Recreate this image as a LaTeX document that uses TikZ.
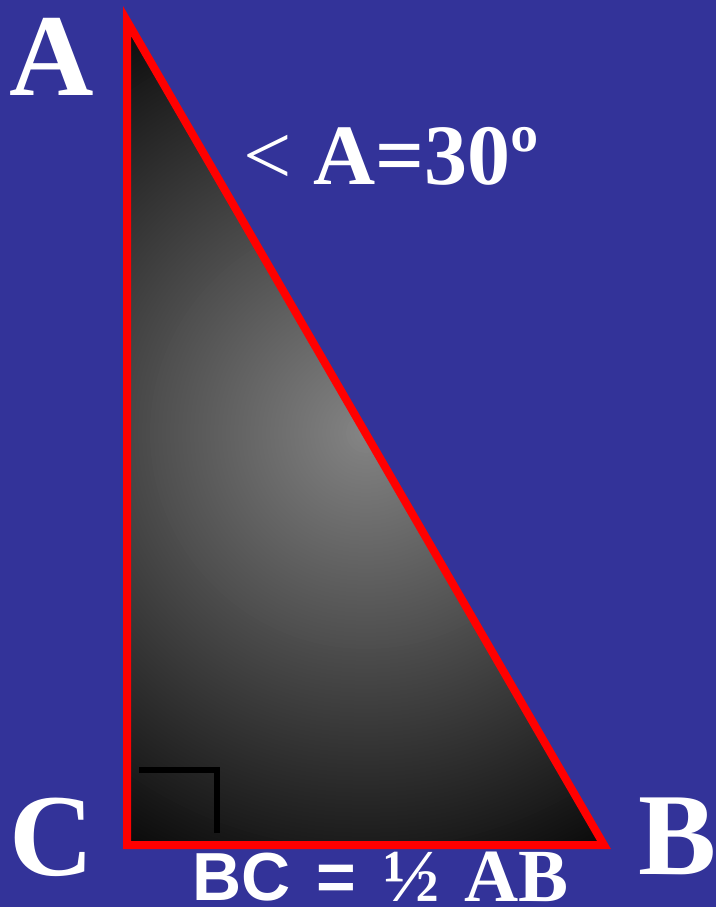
\documentclass[tikz,border=0pt]{standalone}
\usepackage{fontspec}
\setmainfont{Liberation Serif}
\newfontfamily\arialf{Liberation Sans}
\definecolor{bgblue}{RGB}{51,51,153}
\definecolor{trired}{RGB}{255,0,0}
\tikzset{
  lbl/.style={text=white, font=\bfseries\fontsize{117}{117}\selectfont, inner sep=0pt},
  anglbl/.style={text=white, font=\bfseries\fontsize{86}{86}\selectfont, inner sep=0pt},
  bclbl/.style={text=white, font=\bfseries\fontsize{68}{68}\selectfont, inner sep=0pt, text depth=0pt},
  side/.style={draw=trired, line width=8pt, line join=miter},
  rightmark/.style={draw=black, line width=6pt}
}
\begin{document}
\begin{tikzpicture}[x=1pt,y=-1pt]
\fill[bgblue] (0,0) rectangle (716,907);
\useasboundingbox (0,0) rectangle (716,907);
\coordinate (A) at (127,21);
\coordinate (C) at (127,845);
\coordinate (B) at (604,845);
\coordinate (G) at (366,433);
\begin{scope}
  \clip (A) -- (B) -- (C) -- cycle;
  \foreach \r in {480,476,...,4} {
    \pgfmathsetmacro{\w}{4+48*(1-\r/480)}
    \fill[white!\w!black] (G) circle[radius=\r pt];
  }
\end{scope}
\coordinate (ra1) at (139,770);
\coordinate (ra2) at (217,770);
\coordinate (ra3) at (217,833);
\draw[rightmark] (ra1) -- (ra2) -- (ra3);
\node[bclbl, anchor=base west] (bc1) at (192,900) {\arialf BC\hspace{26pt}=};
\node[bclbl, anchor=base west, font=\bfseries\fontsize{75}{75}\selectfont] (bc2) at (383,901) {½\hspace{25pt}AB};
\draw[side] (A) -- (B) -- (C) -- cycle;
\node[lbl, anchor=base] (la) at (52,95) {A};
\node[lbl, anchor=base] (lb) at (678,874) {B};
\node[lbl, anchor=base] (lc) at (52,875) {C};
\node[anglbl, anchor=base west] (ang) at (243,184) {{\mdseries<} A=30º};
\end{tikzpicture}
\end{document}
